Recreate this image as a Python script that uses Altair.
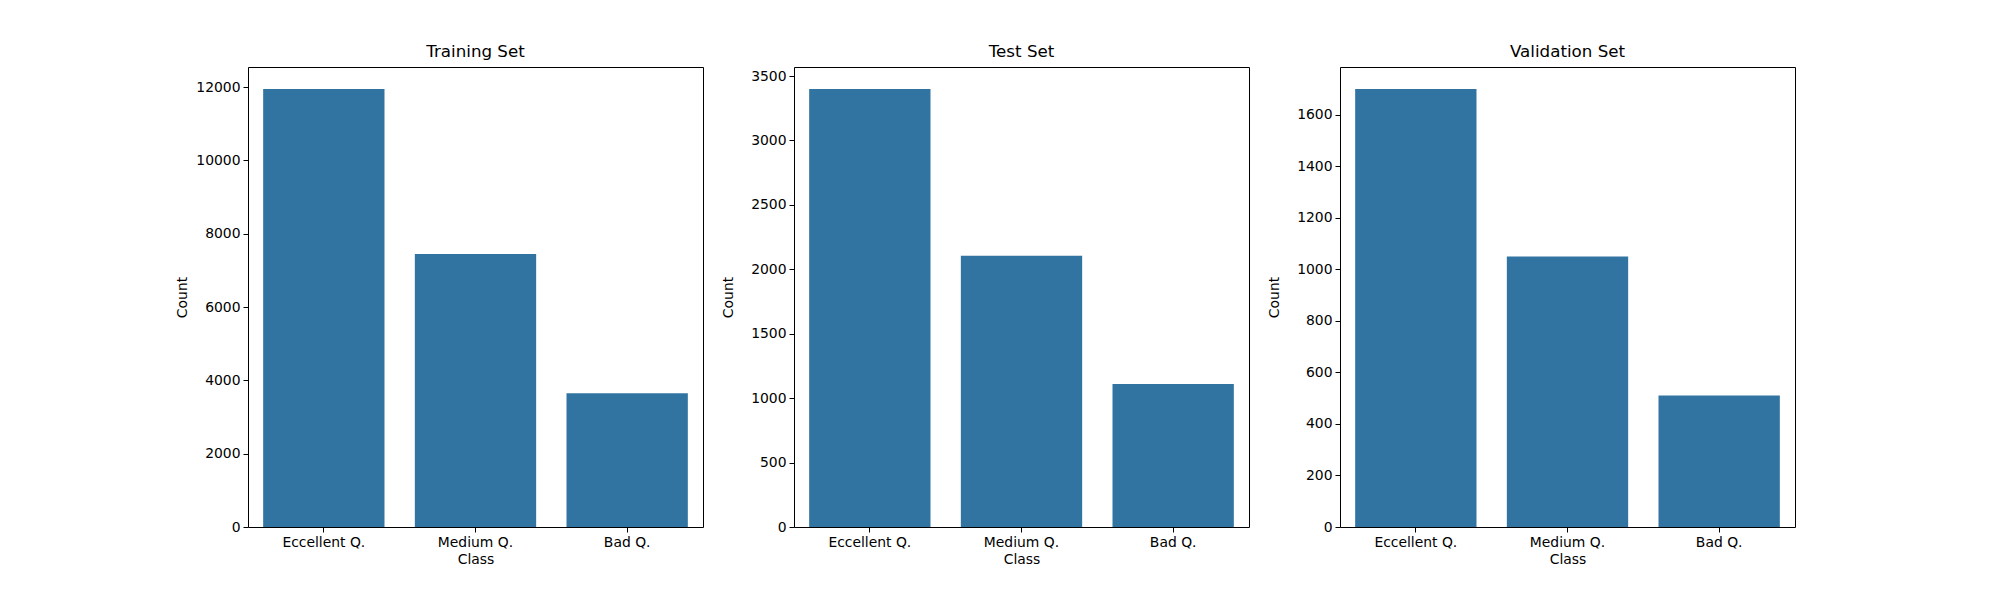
import pandas as pd
import altair as alt

classes = ["Eccellent Q.", "Medium Q.", "Bad Q."]
train_counts = [11950, 7450, 3650]
test_counts = [3400, 2105, 1110]
val_counts = [1700, 1050, 510]
y_ticks = {
    "Training Set": list(range(0, 12001, 2000)),
    "Test Set": list(range(0, 3501, 500)),
    "Validation Set": list(range(0, 1601, 200)),
}

BAR = "#3274a1"


def panel(title, counts):
    df = pd.DataFrame({"Class": classes, "Count": counts})
    return (
        alt.Chart(df, title=alt.Title(title, fontSize=16.7, fontWeight="normal", offset=6))
        .mark_bar(color=BAR)
        .encode(
            x=alt.X("Class:N", sort=classes,
                    scale=alt.Scale(paddingInner=0.2, paddingOuter=0.1),
                    axis=alt.Axis(labelAngle=0)),
            y=alt.Y("Count:Q",
                    scale=alt.Scale(domain=[0, max(counts) * 1.05], nice=False),
                    axis=alt.Axis(values=y_ticks[title], grid=False, format="d",
                                  minExtent=55, maxExtent=55)),
        )
        .properties(width=455, height=460)
    )


chart = (
    alt.hconcat(
        panel("Training Set", train_counts),
        panel("Test Set", test_counts),
        panel("Validation Set", val_counts),
        spacing=16,
    )
    .properties(padding={"left": 166, "top": 35, "right": 5, "bottom": 5})
    .configure(font="DejaVu Sans")
    .configure_view(stroke="black", strokeWidth=1)
    .configure_axis(
        labelFontSize=13.9, titleFontSize=13.9, titleFontWeight="normal",
        labelColor="black", titleColor="black", domainColor="black",
        tickColor="black", tickSize=5, labelPadding=3, titlePadding=4,
        domain=False,
    )
)

chart.save("out.html", embed_options={"renderer": "svg", "actions": False})
